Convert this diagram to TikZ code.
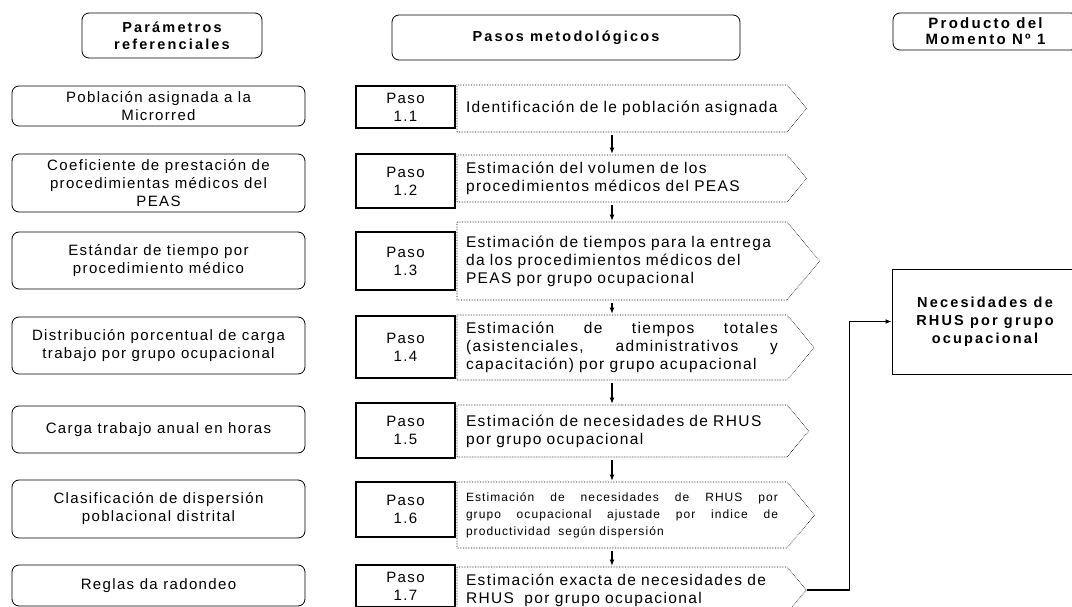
\documentclass[tikz,border=0pt]{standalone}
\usepackage{fontspec}
\setmainfont{Liberation Sans}[LetterSpace=9]
\newfontfamily\tituloancho{Liberation Sans}[LetterSpace=15]
\usetikzlibrary{shapes.symbols,arrows.meta}

\begin{document}
\begin{tikzpicture}[x=1pt,y=-1pt,
  font=\fontsize{15}{18}\selectfont,
  param/.style={draw,rounded corners=7pt,line width=0.8pt,minimum width=293pt,align=center,inner sep=2pt},
  titulo/.style={draw,rounded corners=7pt,line width=0.8pt,align=center,inner sep=2pt,font=\tituloancho\fontsize{14.5}{17}\selectfont\bfseries},
  paso/.style={draw,line width=1.1pt,minimum width=99pt,align=center,inner sep=2pt},
  etapa/.style={draw,densely dotted,line width=0.6pt,shape=signal,signal to=east,signal pointer angle=100,text width=312pt,inner xsep=9pt,inner ysep=2pt,align=left,font=\fontsize{15.5}{18}\selectfont},
  flecha/.style={line width=1.3pt,-{Latex[length=6pt,width=5pt]}}]
                \useasboundingbox (0,0) rectangle (1072,607);

                \node[titulo,minimum width=180pt,minimum height=45pt] (tpar) at (172,35.5) {Parámetros\\referenciales};
                \node[titulo,minimum width=348pt,minimum height=45pt] (tpas) at (566,37.5) {Pasos metodológicos};
                \node[titulo,minimum width=185pt,minimum height=37pt,font=\tituloancho\fontsize{15}{16}\selectfont\bfseries] (tpro) at (985.5,31.5) {Producto del\\Momento Nº 1};

                \node[param,minimum height=40pt] (pob) at (158.5,106) {Población asignada a la\\Microrred};
                \node[param,minimum height=58pt] (coef) at (158.5,183) {Coeficiente de prestación de\\procedimientas médicos del\\PEAS};
                \node[param,minimum height=57pt] (estd) at (158.5,260.5) {Estándar de tiempo por\\procedimiento médico};
                \node[param,minimum height=57pt] (dist) at (158.5,345.5) {Distribución porcentual de carga\\trabajo por grupo ocupacional};
                \node[param,minimum height=47pt] (carga) at (158.5,429.5) {Carga trabajo anual en horas};
                \node[param,minimum height=58pt] (clas) at (158.5,509) {Clasificación de dispersión\\poblacional distrital};
                \node[param,minimum height=41pt] (regl) at (158.5,585.5) {Reglas da radondeo};

                \node[paso,minimum height=42pt] (p1) at (405.5,107) {Paso\\1.1};
                \node[paso,minimum height=54pt,line width=1.5pt] (p2) at (405.5,181) {Paso\\1.2};
                \node[paso,minimum height=58pt] (p3) at (405.5,261) {Paso\\1.3};
                \node[paso,minimum height=62pt,line width=1.5pt] (p4) at (405.5,347) {Paso\\1.4};
                \node[paso,minimum height=55pt] (p5) at (405.5,430.5) {Paso\\1.5};
                \node[paso,minimum height=55pt] (p6) at (405.5,509.5) {Paso\\1.6};
                \node[paso,minimum height=42pt] (p7) at (405.5,586) {Paso\\1.7};

                \node[etapa,minimum height=47pt] (s1) at (622,108.5) {Identificación de le población asignada};
                \node[etapa,minimum height=47pt] (s2) at (622,178.5) {Estimación del volumen de los\\procedimientos médicos del PEAS};
                \node[etapa,minimum height=78pt] (s3) at (622,261) {Estimación de tiempos para la entrega\\da los procedimientos médicos del\\PEAS por grupo ocupacional};
                \node[etapa,minimum height=65pt] (s4) at (622,347.5) {Estimación \hfill de \hfill tiempos \hfill totales\\(asistenciales, \hfill administrativos \hfill y\\capacitación) por grupo acupacional};
                \node[etapa,minimum height=52pt] (s5) at (622,431) {Estimación de necesidades de RHUS\\por grupo ocupacional};
                \node[etapa,minimum height=66pt,font=\fontsize{12}{17}\selectfont] (s6) at (622,515) {Estimación \hfill de \hfill necesidades \hfill de \hfill RHUS \hfill por\\grupo \hfill ocupacional \hfill ajustade \hfill por \hfill indice \hfill de\\productividad \ según dispersión};
                \node[etapa,minimum height=46pt] (s7) at (622,590) {Estimación exacta de necesidades de\\RHUS \ por grupo ocupacional};

                \node[draw,line width=1pt,minimum width=186pt,minimum height=105pt,align=center,font=\tituloancho\fontsize{14.5}{18}\selectfont\bfseries] (nec) at (985,321.5) {Necesidades de\\RHUS por grupo\\ocupacional};

                \draw[flecha,shorten <=3pt,shorten >=1pt] ([xshift=-10pt]s1.south) -- ([xshift=-10pt]s2.north);
                \draw[flecha,shorten <=3pt,shorten >=1pt] ([xshift=-10pt]s2.south) -- ([xshift=-10pt]s3.north);
                \draw[flecha,shorten <=3pt,shorten >=1pt] ([xshift=-10pt]s3.south) -- ([xshift=-10pt]s4.north);
                \draw[flecha,shorten <=3pt,shorten >=1pt] ([xshift=-10pt]s4.south) -- ([xshift=-10pt]s5.north);
                \draw[flecha,shorten <=3pt,shorten >=1pt] ([xshift=-10pt]s5.south) -- ([xshift=-10pt]s6.north);
                \draw[flecha,shorten <=3pt,shorten >=1pt] ([xshift=-10pt]s6.south) -- ([xshift=-10pt]s7.north);
                \draw[flecha] (s7.east) -- ++(43,0) |- (nec.west);
            \end{tikzpicture}
\end{document}
